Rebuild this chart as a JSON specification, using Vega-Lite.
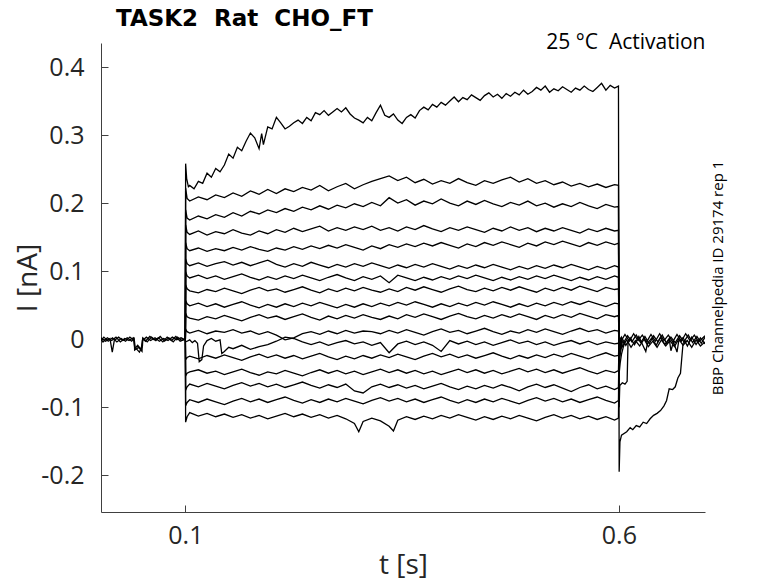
{
"$schema":"https://vega.github.io/schema/vega-lite/v6.json",
"width":604,"height":469,
"autosize":{"type":"none"},
"padding":{"left":101,"top":43,"right":73,"bottom":71},
"background":"white",
"title":{"text":"TASK2\u00a0 Rat\u00a0 CHO_FT","anchor":"start","frame":"group","font":"DejaVu Sans","fontSize":23,"fontWeight":"bold","color":"black","dx":15,"offset":-18,"baseline":"alphabetic"},
"config":{"view":{"stroke":null}},
"data":{"values":[
{"k":1,"t":0.1,"v":-0.001},{"k":1,"t":0.1003,"v":0.258},{"k":1,"t":0.1015,"v":0.236},{"k":1,"t":0.1035,"v":0.224},
{"k":1,"t":0.105,"v":0.226},{"k":1,"t":0.11,"v":0.221},{"k":1,"t":0.115,"v":0.232},{"k":1,"t":0.12,"v":0.229},{"k":1,"t":0.125,"v":0.244},{"k":1,"t":0.13,"v":0.238},{"k":1,"t":0.135,"v":0.251},{"k":1,"t":0.14,"v":0.246},{"k":1,"t":0.145,"v":0.256},{"k":1,"t":0.15,"v":0.272},
{"k":1,"t":0.155,"v":0.266},{"k":1,"t":0.16,"v":0.282},{"k":1,"t":0.165,"v":0.277},{"k":1,"t":0.17,"v":0.291},{"k":1,"t":0.175,"v":0.303},{"k":1,"t":0.18,"v":0.296},{"k":1,"t":0.185,"v":0.28},{"k":1,"t":0.188,"v":0.302},{"k":1,"t":0.19,"v":0.286},{"k":1,"t":0.195,"v":0.312},
{"k":1,"t":0.2,"v":0.309},{"k":1,"t":0.205,"v":0.326},{"k":1,"t":0.21,"v":0.318},{"k":1,"t":0.215,"v":0.309},{"k":1,"t":0.22,"v":0.313},{"k":1,"t":0.225,"v":0.318},{"k":1,"t":0.23,"v":0.322},{"k":1,"t":0.235,"v":0.317},{"k":1,"t":0.24,"v":0.326},{"k":1,"t":0.245,"v":0.321},
{"k":1,"t":0.25,"v":0.333},{"k":1,"t":0.255,"v":0.33},{"k":1,"t":0.26,"v":0.336},{"k":1,"t":0.265,"v":0.329},{"k":1,"t":0.27,"v":0.334},{"k":1,"t":0.275,"v":0.339},{"k":1,"t":0.28,"v":0.334},{"k":1,"t":0.285,"v":0.34},{"k":1,"t":0.29,"v":0.331},{"k":1,"t":0.295,"v":0.325},
{"k":1,"t":0.3,"v":0.322},{"k":1,"t":0.305,"v":0.318},{"k":1,"t":0.31,"v":0.326},{"k":1,"t":0.315,"v":0.321},{"k":1,"t":0.32,"v":0.333},{"k":1,"t":0.325,"v":0.344},{"k":1,"t":0.33,"v":0.329},{"k":1,"t":0.335,"v":0.326},{"k":1,"t":0.34,"v":0.331},{"k":1,"t":0.345,"v":0.322},
{"k":1,"t":0.35,"v":0.317},{"k":1,"t":0.355,"v":0.326},{"k":1,"t":0.36,"v":0.33},{"k":1,"t":0.365,"v":0.325},{"k":1,"t":0.37,"v":0.336},{"k":1,"t":0.375,"v":0.341},{"k":1,"t":0.38,"v":0.337},{"k":1,"t":0.385,"v":0.345},{"k":1,"t":0.39,"v":0.341},{"k":1,"t":0.395,"v":0.348},
{"k":1,"t":0.4,"v":0.344},{"k":1,"t":0.405,"v":0.35},{"k":1,"t":0.41,"v":0.356},{"k":1,"t":0.415,"v":0.349},{"k":1,"t":0.42,"v":0.355},{"k":1,"t":0.425,"v":0.352},{"k":1,"t":0.43,"v":0.359},{"k":1,"t":0.435,"v":0.355},{"k":1,"t":0.44,"v":0.351},{"k":1,"t":0.445,"v":0.358},
{"k":1,"t":0.45,"v":0.362},{"k":1,"t":0.455,"v":0.356},{"k":1,"t":0.46,"v":0.36},{"k":1,"t":0.465,"v":0.354},{"k":1,"t":0.47,"v":0.361},{"k":1,"t":0.475,"v":0.357},{"k":1,"t":0.48,"v":0.363},{"k":1,"t":0.485,"v":0.359},{"k":1,"t":0.49,"v":0.366},{"k":1,"t":0.495,"v":0.36},
{"k":1,"t":0.5,"v":0.364},{"k":1,"t":0.505,"v":0.37},{"k":1,"t":0.51,"v":0.366},{"k":1,"t":0.515,"v":0.372},{"k":1,"t":0.52,"v":0.363},{"k":1,"t":0.525,"v":0.368},{"k":1,"t":0.53,"v":0.365},{"k":1,"t":0.535,"v":0.371},{"k":1,"t":0.54,"v":0.367},{"k":1,"t":0.545,"v":0.363},
{"k":1,"t":0.55,"v":0.369},{"k":1,"t":0.555,"v":0.366},{"k":1,"t":0.56,"v":0.372},{"k":1,"t":0.565,"v":0.367},{"k":1,"t":0.57,"v":0.364},{"k":1,"t":0.575,"v":0.37},{"k":1,"t":0.58,"v":0.376},{"k":1,"t":0.585,"v":0.366},{"k":1,"t":0.59,"v":0.373},{"k":1,"t":0.595,"v":0.369},{"k":1,"t":0.5995,"v":0.372},
{"k":1,"t":0.6003,"v":-0.195},{"k":1,"t":0.6012,"v":-0.151},{"k":1,"t":0.603,"v":-0.141},{"k":1,"t":0.609,"v":-0.136},{"k":1,"t":0.613,"v":-0.13},{"k":1,"t":0.616,"v":-0.133},{"k":1,"t":0.62,"v":-0.127},{"k":1,"t":0.624,"v":-0.129},{"k":1,"t":0.628,"v":-0.122},{"k":1,"t":0.632,"v":-0.124},{"k":1,"t":0.636,"v":-0.117},{"k":1,"t":0.64,"v":-0.112},{"k":1,"t":0.644,"v":-0.109},{"k":1,"t":0.648,"v":-0.105},{"k":1,"t":0.652,"v":-0.098},{"k":1,"t":0.655,"v":-0.09},{"k":1,"t":0.658,"v":-0.073},{"k":1,"t":0.662,"v":-0.074},{"k":1,"t":0.665,"v":-0.07},{"k":1,"t":0.668,"v":-0.057},{"k":1,"t":0.671,"v":-0.05},{"k":1,"t":0.6725,"v":-0.028},{"k":1,"t":0.674,"v":-0.006},{"k":1,"t":0.678,"v":-0.002},
{"k":2,"t":0.1,"v":-0.001},{"k":2,"t":0.1003,"v":0.222},{"k":2,"t":0.102,"v":0.207},{"k":2,"t":0.105,"v":0.203},{"k":2,"t":0.115,"v":0.209},{"k":2,"t":0.125,"v":0.205},{"k":2,"t":0.135,"v":0.212},{"k":2,"t":0.145,"v":0.208},{"k":2,"t":0.155,"v":0.215},{"k":2,"t":0.165,"v":0.21},{"k":2,"t":0.175,"v":0.218},{"k":2,"t":0.185,"v":0.213},{"k":2,"t":0.195,"v":0.22},
{"k":2,"t":0.205,"v":0.214},{"k":2,"t":0.215,"v":0.221},{"k":2,"t":0.225,"v":0.217},{"k":2,"t":0.235,"v":0.223},{"k":2,"t":0.245,"v":0.219},{"k":2,"t":0.255,"v":0.226},{"k":2,"t":0.265,"v":0.218},{"k":2,"t":0.275,"v":0.224},{"k":2,"t":0.285,"v":0.229},{"k":2,"t":0.295,"v":0.221},
{"k":2,"t":0.305,"v":0.227},{"k":2,"t":0.315,"v":0.232},{"k":2,"t":0.325,"v":0.236},{"k":2,"t":0.335,"v":0.24},{"k":2,"t":0.345,"v":0.233},{"k":2,"t":0.355,"v":0.238},{"k":2,"t":0.365,"v":0.23},{"k":2,"t":0.375,"v":0.235},{"k":2,"t":0.385,"v":0.228},{"k":2,"t":0.395,"v":0.233},
{"k":2,"t":0.405,"v":0.229},{"k":2,"t":0.415,"v":0.236},{"k":2,"t":0.425,"v":0.23},{"k":2,"t":0.435,"v":0.226},{"k":2,"t":0.445,"v":0.233},{"k":2,"t":0.455,"v":0.229},{"k":2,"t":0.465,"v":0.234},{"k":2,"t":0.475,"v":0.238},{"k":2,"t":0.485,"v":0.231},{"k":2,"t":0.495,"v":0.236},
{"k":2,"t":0.505,"v":0.229},{"k":2,"t":0.515,"v":0.233},{"k":2,"t":0.525,"v":0.227},{"k":2,"t":0.535,"v":0.231},{"k":2,"t":0.545,"v":0.225},{"k":2,"t":0.555,"v":0.229},{"k":2,"t":0.565,"v":0.224},{"k":2,"t":0.575,"v":0.228},{"k":2,"t":0.585,"v":0.223},{"k":2,"t":0.595,"v":0.227},{"k":2,"t":0.5995,"v":0.226},
{"k":2,"t":0.6003,"v":-0.1},{"k":2,"t":0.601,"v":-0.068},{"k":2,"t":0.604,"v":-0.064},{"k":2,"t":0.607,"v":-0.066},{"k":2,"t":0.6095,"v":-0.062},{"k":2,"t":0.6105,"v":-0.004},
{"k":3,"t":0.1,"v":-0.001},{"k":3,"t":0.1003,"v":0.19},{"k":3,"t":0.102,"v":0.178},{"k":3,"t":0.105,"v":0.175},{"k":3,"t":0.115,"v":0.181},{"k":3,"t":0.125,"v":0.177},{"k":3,"t":0.135,"v":0.183},{"k":3,"t":0.145,"v":0.179},{"k":3,"t":0.155,"v":0.186},{"k":3,"t":0.165,"v":0.181},{"k":3,"t":0.175,"v":0.188},{"k":3,"t":0.185,"v":0.184},{"k":3,"t":0.195,"v":0.19},
{"k":3,"t":0.205,"v":0.186},{"k":3,"t":0.215,"v":0.192},{"k":3,"t":0.225,"v":0.188},{"k":3,"t":0.235,"v":0.194},{"k":3,"t":0.245,"v":0.19},{"k":3,"t":0.255,"v":0.196},{"k":3,"t":0.265,"v":0.191},{"k":3,"t":0.275,"v":0.197},{"k":3,"t":0.285,"v":0.193},{"k":3,"t":0.295,"v":0.199},
{"k":3,"t":0.305,"v":0.195},{"k":3,"t":0.315,"v":0.201},{"k":3,"t":0.325,"v":0.196},{"k":3,"t":0.335,"v":0.208},{"k":3,"t":0.345,"v":0.2},{"k":3,"t":0.355,"v":0.205},{"k":3,"t":0.365,"v":0.197},{"k":3,"t":0.375,"v":0.203},{"k":3,"t":0.385,"v":0.199},{"k":3,"t":0.395,"v":0.206},
{"k":3,"t":0.405,"v":0.2},{"k":3,"t":0.415,"v":0.196},{"k":3,"t":0.425,"v":0.203},{"k":3,"t":0.435,"v":0.198},{"k":3,"t":0.445,"v":0.204},{"k":3,"t":0.455,"v":0.199},{"k":3,"t":0.465,"v":0.195},{"k":3,"t":0.475,"v":0.201},{"k":3,"t":0.485,"v":0.197},{"k":3,"t":0.495,"v":0.203},
{"k":3,"t":0.505,"v":0.196},{"k":3,"t":0.515,"v":0.2},{"k":3,"t":0.525,"v":0.194},{"k":3,"t":0.535,"v":0.199},{"k":3,"t":0.545,"v":0.195},{"k":3,"t":0.555,"v":0.201},{"k":3,"t":0.565,"v":0.196},{"k":3,"t":0.575,"v":0.192},{"k":3,"t":0.585,"v":0.198},{"k":3,"t":0.595,"v":0.194},{"k":3,"t":0.5995,"v":0.195},
{"k":3,"t":0.6003,"v":-0.05},{"k":3,"t":0.6015,"v":-0.035},{"k":3,"t":0.603,"v":-0.022},{"k":3,"t":0.605,"v":-0.012},{"k":3,"t":0.607,"v":-0.004},
{"k":4,"t":0.1,"v":-0.001},{"k":4,"t":0.1003,"v":0.168},{"k":4,"t":0.102,"v":0.157},{"k":4,"t":0.105,"v":0.154},{"k":4,"t":0.115,"v":0.159},{"k":4,"t":0.125,"v":0.153},{"k":4,"t":0.135,"v":0.158},{"k":4,"t":0.145,"v":0.155},{"k":4,"t":0.155,"v":0.161},{"k":4,"t":0.165,"v":0.156},{"k":4,"t":0.175,"v":0.153},{"k":4,"t":0.185,"v":0.159},{"k":4,"t":0.195,"v":0.155},
{"k":4,"t":0.205,"v":0.161},{"k":4,"t":0.215,"v":0.157},{"k":4,"t":0.225,"v":0.163},{"k":4,"t":0.235,"v":0.158},{"k":4,"t":0.245,"v":0.162},{"k":4,"t":0.255,"v":0.166},{"k":4,"t":0.265,"v":0.159},{"k":4,"t":0.275,"v":0.164},{"k":4,"t":0.285,"v":0.16},{"k":4,"t":0.295,"v":0.165},
{"k":4,"t":0.305,"v":0.161},{"k":4,"t":0.315,"v":0.166},{"k":4,"t":0.325,"v":0.16},{"k":4,"t":0.335,"v":0.164},{"k":4,"t":0.345,"v":0.159},{"k":4,"t":0.355,"v":0.165},{"k":4,"t":0.365,"v":0.161},{"k":4,"t":0.375,"v":0.167},{"k":4,"t":0.385,"v":0.162},{"k":4,"t":0.395,"v":0.158},
{"k":4,"t":0.405,"v":0.164},{"k":4,"t":0.415,"v":0.16},{"k":4,"t":0.425,"v":0.165},{"k":4,"t":0.435,"v":0.161},{"k":4,"t":0.445,"v":0.157},{"k":4,"t":0.455,"v":0.163},{"k":4,"t":0.465,"v":0.159},{"k":4,"t":0.475,"v":0.165},{"k":4,"t":0.485,"v":0.16},{"k":4,"t":0.495,"v":0.164},
{"k":4,"t":0.505,"v":0.158},{"k":4,"t":0.515,"v":0.163},{"k":4,"t":0.525,"v":0.159},{"k":4,"t":0.535,"v":0.164},{"k":4,"t":0.545,"v":0.16},{"k":4,"t":0.555,"v":0.156},{"k":4,"t":0.565,"v":0.162},{"k":4,"t":0.575,"v":0.158},{"k":4,"t":0.585,"v":0.163},{"k":4,"t":0.595,"v":0.159},{"k":4,"t":0.5995,"v":0.16},
{"k":4,"t":0.6003,"v":-0.035},{"k":4,"t":0.602,"v":-0.018},{"k":4,"t":0.604,"v":-0.006},
{"k":5,"t":0.1,"v":-0.001},{"k":5,"t":0.1003,"v":0.142},{"k":5,"t":0.102,"v":0.133},{"k":5,"t":0.105,"v":0.13},{"k":5,"t":0.115,"v":0.134},{"k":5,"t":0.125,"v":0.129},{"k":5,"t":0.135,"v":0.133},{"k":5,"t":0.145,"v":0.13},{"k":5,"t":0.155,"v":0.135},{"k":5,"t":0.165,"v":0.131},{"k":5,"t":0.175,"v":0.136},{"k":5,"t":0.185,"v":0.132},{"k":5,"t":0.195,"v":0.129},
{"k":5,"t":0.205,"v":0.134},{"k":5,"t":0.215,"v":0.131},{"k":5,"t":0.225,"v":0.136},{"k":5,"t":0.235,"v":0.132},{"k":5,"t":0.245,"v":0.137},{"k":5,"t":0.255,"v":0.133},{"k":5,"t":0.265,"v":0.138},{"k":5,"t":0.275,"v":0.134},{"k":5,"t":0.285,"v":0.139},{"k":5,"t":0.295,"v":0.135},
{"k":5,"t":0.305,"v":0.131},{"k":5,"t":0.315,"v":0.137},{"k":5,"t":0.325,"v":0.133},{"k":5,"t":0.335,"v":0.139},{"k":5,"t":0.345,"v":0.135},{"k":5,"t":0.355,"v":0.14},{"k":5,"t":0.365,"v":0.136},{"k":5,"t":0.375,"v":0.141},{"k":5,"t":0.385,"v":0.137},{"k":5,"t":0.395,"v":0.142},
{"k":5,"t":0.405,"v":0.138},{"k":5,"t":0.415,"v":0.134},{"k":5,"t":0.425,"v":0.14},{"k":5,"t":0.435,"v":0.136},{"k":5,"t":0.445,"v":0.142},{"k":5,"t":0.455,"v":0.138},{"k":5,"t":0.465,"v":0.143},{"k":5,"t":0.475,"v":0.139},{"k":5,"t":0.485,"v":0.135},{"k":5,"t":0.495,"v":0.141},
{"k":5,"t":0.505,"v":0.137},{"k":5,"t":0.515,"v":0.143},{"k":5,"t":0.525,"v":0.139},{"k":5,"t":0.535,"v":0.144},{"k":5,"t":0.545,"v":0.14},{"k":5,"t":0.555,"v":0.136},{"k":5,"t":0.565,"v":0.142},{"k":5,"t":0.575,"v":0.138},{"k":5,"t":0.585,"v":0.143},{"k":5,"t":0.595,"v":0.139},{"k":5,"t":0.5995,"v":0.141},
{"k":5,"t":0.6003,"v":-0.028},{"k":5,"t":0.602,"v":-0.012},{"k":5,"t":0.6035,"v":-0.003},
{"k":6,"t":0.1,"v":-0.001},{"k":6,"t":0.1003,"v":0.118},{"k":6,"t":0.102,"v":0.111},{"k":6,"t":0.105,"v":0.108},{"k":6,"t":0.115,"v":0.112},{"k":6,"t":0.125,"v":0.107},{"k":6,"t":0.135,"v":0.111},{"k":6,"t":0.145,"v":0.114},{"k":6,"t":0.155,"v":0.109},{"k":6,"t":0.165,"v":0.113},{"k":6,"t":0.175,"v":0.108},{"k":6,"t":0.185,"v":0.112},{"k":6,"t":0.195,"v":0.116},
{"k":6,"t":0.205,"v":0.11},{"k":6,"t":0.215,"v":0.106},{"k":6,"t":0.225,"v":0.111},{"k":6,"t":0.235,"v":0.107},{"k":6,"t":0.245,"v":0.113},{"k":6,"t":0.255,"v":0.109},{"k":6,"t":0.265,"v":0.105},{"k":6,"t":0.275,"v":0.11},{"k":6,"t":0.285,"v":0.106},{"k":6,"t":0.295,"v":0.111},
{"k":6,"t":0.305,"v":0.107},{"k":6,"t":0.315,"v":0.112},{"k":6,"t":0.325,"v":0.108},{"k":6,"t":0.335,"v":0.104},{"k":6,"t":0.345,"v":0.109},{"k":6,"t":0.355,"v":0.105},{"k":6,"t":0.365,"v":0.11},{"k":6,"t":0.375,"v":0.106},{"k":6,"t":0.385,"v":0.111},{"k":6,"t":0.395,"v":0.107},
{"k":6,"t":0.405,"v":0.103},{"k":6,"t":0.415,"v":0.108},{"k":6,"t":0.425,"v":0.104},{"k":6,"t":0.435,"v":0.109},{"k":6,"t":0.445,"v":0.105},{"k":6,"t":0.455,"v":0.11},{"k":6,"t":0.465,"v":0.106},{"k":6,"t":0.475,"v":0.102},{"k":6,"t":0.485,"v":0.107},{"k":6,"t":0.495,"v":0.103},
{"k":6,"t":0.505,"v":0.108},{"k":6,"t":0.515,"v":0.104},{"k":6,"t":0.525,"v":0.109},{"k":6,"t":0.535,"v":0.105},{"k":6,"t":0.545,"v":0.11},{"k":6,"t":0.555,"v":0.106},{"k":6,"t":0.565,"v":0.102},{"k":6,"t":0.575,"v":0.107},{"k":6,"t":0.585,"v":0.103},{"k":6,"t":0.595,"v":0.108},{"k":6,"t":0.5995,"v":0.106},
{"k":6,"t":0.6003,"v":-0.022},{"k":6,"t":0.602,"v":-0.008},{"k":6,"t":0.6035,"v":-0.002},
{"k":7,"t":0.1,"v":-0.001},{"k":7,"t":0.1003,"v":0.099},{"k":7,"t":0.102,"v":0.093},{"k":7,"t":0.105,"v":0.09},{"k":7,"t":0.115,"v":0.094},{"k":7,"t":0.125,"v":0.089},{"k":7,"t":0.135,"v":0.093},{"k":7,"t":0.145,"v":0.088},{"k":7,"t":0.155,"v":0.092},{"k":7,"t":0.165,"v":0.096},{"k":7,"t":0.175,"v":0.091},{"k":7,"t":0.185,"v":0.087},{"k":7,"t":0.195,"v":0.092},
{"k":7,"t":0.205,"v":0.088},{"k":7,"t":0.215,"v":0.093},{"k":7,"t":0.225,"v":0.089},{"k":7,"t":0.235,"v":0.094},{"k":7,"t":0.245,"v":0.09},{"k":7,"t":0.255,"v":0.086},{"k":7,"t":0.265,"v":0.091},{"k":7,"t":0.275,"v":0.095},{"k":7,"t":0.285,"v":0.09},{"k":7,"t":0.295,"v":0.086},
{"k":7,"t":0.305,"v":0.092},{"k":7,"t":0.315,"v":0.088},{"k":7,"t":0.325,"v":0.093},{"k":7,"t":0.335,"v":0.083},{"k":7,"t":0.345,"v":0.094},{"k":7,"t":0.355,"v":0.09},{"k":7,"t":0.365,"v":0.086},{"k":7,"t":0.375,"v":0.091},{"k":7,"t":0.385,"v":0.087},{"k":7,"t":0.395,"v":0.092},
{"k":7,"t":0.405,"v":0.088},{"k":7,"t":0.415,"v":0.093},{"k":7,"t":0.425,"v":0.089},{"k":7,"t":0.435,"v":0.094},{"k":7,"t":0.445,"v":0.09},{"k":7,"t":0.455,"v":0.086},{"k":7,"t":0.465,"v":0.091},{"k":7,"t":0.475,"v":0.087},{"k":7,"t":0.485,"v":0.092},{"k":7,"t":0.495,"v":0.088},
{"k":7,"t":0.505,"v":0.093},{"k":7,"t":0.515,"v":0.089},{"k":7,"t":0.525,"v":0.094},{"k":7,"t":0.535,"v":0.09},{"k":7,"t":0.545,"v":0.086},{"k":7,"t":0.555,"v":0.091},{"k":7,"t":0.565,"v":0.087},{"k":7,"t":0.575,"v":0.092},{"k":7,"t":0.585,"v":0.088},{"k":7,"t":0.595,"v":0.093},{"k":7,"t":0.5995,"v":0.091},
{"k":7,"t":0.6003,"v":-0.018},{"k":7,"t":0.602,"v":-0.006},{"k":7,"t":0.6035,"v":-0.001},
{"k":8,"t":0.1,"v":-0.001},{"k":8,"t":0.1003,"v":0.08},{"k":8,"t":0.102,"v":0.074},{"k":8,"t":0.105,"v":0.071},{"k":8,"t":0.115,"v":0.068},{"k":8,"t":0.125,"v":0.073},{"k":8,"t":0.135,"v":0.07},{"k":8,"t":0.145,"v":0.075},{"k":8,"t":0.155,"v":0.071},{"k":8,"t":0.165,"v":0.067},{"k":8,"t":0.175,"v":0.072},{"k":8,"t":0.185,"v":0.076},{"k":8,"t":0.195,"v":0.071},
{"k":8,"t":0.205,"v":0.074},{"k":8,"t":0.215,"v":0.069},{"k":8,"t":0.225,"v":0.073},{"k":8,"t":0.235,"v":0.077},{"k":8,"t":0.245,"v":0.072},{"k":8,"t":0.255,"v":0.068},{"k":8,"t":0.265,"v":0.074},{"k":8,"t":0.275,"v":0.07},{"k":8,"t":0.285,"v":0.075},{"k":8,"t":0.295,"v":0.071},
{"k":8,"t":0.305,"v":0.076},{"k":8,"t":0.315,"v":0.072},{"k":8,"t":0.325,"v":0.069},{"k":8,"t":0.335,"v":0.074},{"k":8,"t":0.345,"v":0.07},{"k":8,"t":0.355,"v":0.076},{"k":8,"t":0.365,"v":0.072},{"k":8,"t":0.375,"v":0.077},{"k":8,"t":0.385,"v":0.073},{"k":8,"t":0.395,"v":0.069},
{"k":8,"t":0.405,"v":0.074},{"k":8,"t":0.415,"v":0.078},{"k":8,"t":0.425,"v":0.073},{"k":8,"t":0.435,"v":0.07},{"k":8,"t":0.445,"v":0.075},{"k":8,"t":0.455,"v":0.071},{"k":8,"t":0.465,"v":0.076},{"k":8,"t":0.475,"v":0.072},{"k":8,"t":0.485,"v":0.077},{"k":8,"t":0.495,"v":0.073},
{"k":8,"t":0.505,"v":0.069},{"k":8,"t":0.515,"v":0.075},{"k":8,"t":0.525,"v":0.071},{"k":8,"t":0.535,"v":0.076},{"k":8,"t":0.545,"v":0.072},{"k":8,"t":0.555,"v":0.078},{"k":8,"t":0.565,"v":0.074},{"k":8,"t":0.575,"v":0.07},{"k":8,"t":0.585,"v":0.076},{"k":8,"t":0.595,"v":0.073},{"k":8,"t":0.5995,"v":0.074},
{"k":8,"t":0.6003,"v":-0.015},{"k":8,"t":0.602,"v":-0.005},{"k":8,"t":0.6035,"v":-0.001},
{"k":9,"t":0.1,"v":-0.001},{"k":9,"t":0.1003,"v":0.057},{"k":9,"t":0.102,"v":0.052},{"k":9,"t":0.105,"v":0.049},{"k":9,"t":0.115,"v":0.053},{"k":9,"t":0.125,"v":0.048},{"k":9,"t":0.135,"v":0.052},{"k":9,"t":0.145,"v":0.047},{"k":9,"t":0.155,"v":0.051},{"k":9,"t":0.165,"v":0.055},{"k":9,"t":0.175,"v":0.05},{"k":9,"t":0.185,"v":0.046},{"k":9,"t":0.195,"v":0.051},
{"k":9,"t":0.205,"v":0.047},{"k":9,"t":0.215,"v":0.052},{"k":9,"t":0.225,"v":0.048},{"k":9,"t":0.235,"v":0.053},{"k":9,"t":0.245,"v":0.049},{"k":9,"t":0.255,"v":0.054},{"k":9,"t":0.265,"v":0.05},{"k":9,"t":0.275,"v":0.046},{"k":9,"t":0.285,"v":0.051},{"k":9,"t":0.295,"v":0.047},
{"k":9,"t":0.305,"v":0.052},{"k":9,"t":0.315,"v":0.048},{"k":9,"t":0.325,"v":0.053},{"k":9,"t":0.335,"v":0.049},{"k":9,"t":0.345,"v":0.054},{"k":9,"t":0.355,"v":0.05},{"k":9,"t":0.365,"v":0.055},{"k":9,"t":0.375,"v":0.051},{"k":9,"t":0.385,"v":0.047},{"k":9,"t":0.395,"v":0.052},
{"k":9,"t":0.405,"v":0.048},{"k":9,"t":0.415,"v":0.053},{"k":9,"t":0.425,"v":0.049},{"k":9,"t":0.435,"v":0.054},{"k":9,"t":0.445,"v":0.05},{"k":9,"t":0.455,"v":0.055},{"k":9,"t":0.465,"v":0.051},{"k":9,"t":0.475,"v":0.047},{"k":9,"t":0.485,"v":0.052},{"k":9,"t":0.495,"v":0.048},
{"k":9,"t":0.505,"v":0.053},{"k":9,"t":0.515,"v":0.049},{"k":9,"t":0.525,"v":0.054},{"k":9,"t":0.535,"v":0.05},{"k":9,"t":0.545,"v":0.055},{"k":9,"t":0.555,"v":0.051},{"k":9,"t":0.565,"v":0.056},{"k":9,"t":0.575,"v":0.052},{"k":9,"t":0.585,"v":0.048},{"k":9,"t":0.595,"v":0.053},{"k":9,"t":0.5995,"v":0.052},
{"k":9,"t":0.6003,"v":-0.012},{"k":9,"t":0.602,"v":-0.004},
{"k":10,"t":0.1,"v":-0.001},{"k":10,"t":0.1003,"v":0.038},{"k":10,"t":0.102,"v":0.033},{"k":10,"t":0.105,"v":0.031},{"k":10,"t":0.115,"v":0.028},{"k":10,"t":0.125,"v":0.033},{"k":10,"t":0.135,"v":0.03},{"k":10,"t":0.145,"v":0.035},{"k":10,"t":0.155,"v":0.031},{"k":10,"t":0.165,"v":0.027},{"k":10,"t":0.175,"v":0.032},{"k":10,"t":0.185,"v":0.036},{"k":10,"t":0.195,"v":0.031},
{"k":10,"t":0.205,"v":0.034},{"k":10,"t":0.215,"v":0.029},{"k":10,"t":0.225,"v":0.033},{"k":10,"t":0.235,"v":0.037},{"k":10,"t":0.245,"v":0.032},{"k":10,"t":0.255,"v":0.028},{"k":10,"t":0.265,"v":0.034},{"k":10,"t":0.275,"v":0.03},{"k":10,"t":0.285,"v":0.035},{"k":10,"t":0.295,"v":0.031},
{"k":10,"t":0.305,"v":0.036},{"k":10,"t":0.315,"v":0.032},{"k":10,"t":0.325,"v":0.029},{"k":10,"t":0.335,"v":0.034},{"k":10,"t":0.345,"v":0.03},{"k":10,"t":0.355,"v":0.036},{"k":10,"t":0.365,"v":0.032},{"k":10,"t":0.375,"v":0.037},{"k":10,"t":0.385,"v":0.033},{"k":10,"t":0.395,"v":0.029},
{"k":10,"t":0.405,"v":0.034},{"k":10,"t":0.415,"v":0.038},{"k":10,"t":0.425,"v":0.033},{"k":10,"t":0.435,"v":0.03},{"k":10,"t":0.445,"v":0.035},{"k":10,"t":0.455,"v":0.031},{"k":10,"t":0.465,"v":0.036},{"k":10,"t":0.475,"v":0.032},{"k":10,"t":0.485,"v":0.037},{"k":10,"t":0.495,"v":0.033},
{"k":10,"t":0.505,"v":0.029},{"k":10,"t":0.515,"v":0.035},{"k":10,"t":0.525,"v":0.031},{"k":10,"t":0.535,"v":0.036},{"k":10,"t":0.545,"v":0.032},{"k":10,"t":0.555,"v":0.038},{"k":10,"t":0.565,"v":0.034},{"k":10,"t":0.575,"v":0.03},{"k":10,"t":0.585,"v":0.036},{"k":10,"t":0.595,"v":0.033},{"k":10,"t":0.5995,"v":0.035},
{"k":10,"t":0.6003,"v":-0.01},{"k":10,"t":0.602,"v":-0.003},
{"k":11,"t":0.1,"v":-0.001},{"k":11,"t":0.1003,"v":0.015},{"k":11,"t":0.102,"v":0.011},{"k":11,"t":0.105,"v":0.009},{"k":11,"t":0.115,"v":0.013},{"k":11,"t":0.125,"v":0.008},{"k":11,"t":0.135,"v":0.012},{"k":11,"t":0.145,"v":0.01},{"k":11,"t":0.155,"v":0.014},{"k":11,"t":0.165,"v":0.009},{"k":11,"t":0.175,"v":0.012},{"k":11,"t":0.185,"v":0.007},{"k":11,"t":0.195,"v":0.011},
{"k":11,"t":0.205,"v":0.006},{"k":11,"t":0.215,"v":-0.001},{"k":11,"t":0.225,"v":0.002},{"k":11,"t":0.235,"v":0.008},{"k":11,"t":0.245,"v":0.011},{"k":11,"t":0.255,"v":0.007},{"k":11,"t":0.265,"v":0.012},{"k":11,"t":0.275,"v":0.008},{"k":11,"t":0.285,"v":0.013},{"k":11,"t":0.295,"v":0.009},
{"k":11,"t":0.305,"v":0.012},{"k":11,"t":0.315,"v":0.011},{"k":11,"t":0.325,"v":0.008},{"k":11,"t":0.335,"v":0.013},{"k":11,"t":0.345,"v":0.009},{"k":11,"t":0.355,"v":0.014},{"k":11,"t":0.365,"v":0.01},{"k":11,"t":0.375,"v":0.006},{"k":11,"t":0.385,"v":0.011},{"k":11,"t":0.395,"v":0.015},
{"k":11,"t":0.405,"v":0.01},{"k":11,"t":0.415,"v":0.013},{"k":11,"t":0.425,"v":0.008},{"k":11,"t":0.435,"v":0.012},{"k":11,"t":0.445,"v":0.016},{"k":11,"t":0.455,"v":0.011},{"k":11,"t":0.465,"v":0.007},{"k":11,"t":0.475,"v":0.012},{"k":11,"t":0.485,"v":0.009},{"k":11,"t":0.495,"v":0.014},
{"k":11,"t":0.505,"v":0.01},{"k":11,"t":0.515,"v":0.015},{"k":11,"t":0.525,"v":0.011},{"k":11,"t":0.535,"v":0.007},{"k":11,"t":0.545,"v":0.012},{"k":11,"t":0.555,"v":0.016},{"k":11,"t":0.565,"v":0.011},{"k":11,"t":0.575,"v":0.014},{"k":11,"t":0.585,"v":0.009},{"k":11,"t":0.595,"v":0.013},{"k":11,"t":0.5995,"v":0.012},
{"k":11,"t":0.6003,"v":-0.008},{"k":11,"t":0.602,"v":-0.002},
{"k":12,"t":0.1,"v":-0.001},{"k":12,"t":0.1003,"v":-0.004},{"k":12,"t":0.102,"v":-0.003},{"k":12,"t":0.105,"v":-0.001},{"k":12,"t":0.108,"v":-0.005},{"k":12,"t":0.111,"v":-0.002},{"k":12,"t":0.114,"v":-0.006},{"k":12,"t":0.116,"v":-0.033},{"k":12,"t":0.119,"v":-0.03},{"k":12,"t":0.121,"v":-0.01},{"k":12,"t":0.125,"v":-0.002},{"k":12,"t":0.13,"v":0.001},{"k":12,"t":0.135,"v":-0.003},{"k":12,"t":0.14,"v":-0.001},{"k":12,"t":0.142,"v":-0.021},{"k":12,"t":0.145,"v":-0.018},{"k":12,"t":0.15,"v":-0.012},{"k":12,"t":0.155,"v":-0.014},{"k":12,"t":0.165,"v":-0.009},{"k":12,"t":0.175,"v":-0.015},{"k":12,"t":0.185,"v":-0.011},{"k":12,"t":0.195,"v":-0.008},
{"k":12,"t":0.205,"v":-0.003},{"k":12,"t":0.215,"v":0.003},{"k":12,"t":0.225,"v":0.001},{"k":12,"t":0.235,"v":-0.004},{"k":12,"t":0.245,"v":-0.008},{"k":12,"t":0.255,"v":-0.004},{"k":12,"t":0.265,"v":-0.009},{"k":12,"t":0.275,"v":-0.005},{"k":12,"t":0.285,"v":-0.002},{"k":12,"t":0.295,"v":-0.007},
{"k":12,"t":0.305,"v":-0.004},{"k":12,"t":0.315,"v":-0.009},{"k":12,"t":0.325,"v":-0.005},{"k":12,"t":0.335,"v":-0.02},{"k":12,"t":0.345,"v":-0.007},{"k":12,"t":0.355,"v":-0.003},{"k":12,"t":0.365,"v":-0.008},{"k":12,"t":0.375,"v":-0.004},{"k":12,"t":0.385,"v":-0.009},{"k":12,"t":0.395,"v":-0.018},
{"k":12,"t":0.405,"v":-0.002},{"k":12,"t":0.415,"v":-0.007},{"k":12,"t":0.425,"v":-0.003},{"k":12,"t":0.435,"v":-0.008},{"k":12,"t":0.445,"v":-0.004},{"k":12,"t":0.455,"v":-0.009},{"k":12,"t":0.465,"v":-0.005},{"k":12,"t":0.475,"v":-0.001},{"k":12,"t":0.485,"v":-0.006},{"k":12,"t":0.495,"v":-0.003},
{"k":12,"t":0.505,"v":-0.008},{"k":12,"t":0.515,"v":-0.004},{"k":12,"t":0.525,"v":-0.009},{"k":12,"t":0.535,"v":-0.005},{"k":12,"t":0.545,"v":-0.002},{"k":12,"t":0.555,"v":-0.007},{"k":12,"t":0.565,"v":-0.003},{"k":12,"t":0.575,"v":-0.008},{"k":12,"t":0.585,"v":-0.004},{"k":12,"t":0.595,"v":-0.007},{"k":12,"t":0.5995,"v":-0.006},
{"k":12,"t":0.6003,"v":-0.006},{"k":12,"t":0.602,"v":-0.002},
{"k":13,"t":0.1,"v":-0.001},{"k":13,"t":0.1003,"v":-0.03},{"k":13,"t":0.102,"v":-0.027},{"k":13,"t":0.105,"v":-0.025},{"k":13,"t":0.115,"v":-0.029},{"k":13,"t":0.125,"v":-0.024},{"k":13,"t":0.135,"v":-0.028},{"k":13,"t":0.145,"v":-0.023},{"k":13,"t":0.155,"v":-0.027},{"k":13,"t":0.165,"v":-0.031},{"k":13,"t":0.175,"v":-0.026},{"k":13,"t":0.185,"v":-0.022},{"k":13,"t":0.195,"v":-0.027},
{"k":13,"t":0.205,"v":-0.023},{"k":13,"t":0.215,"v":-0.028},{"k":13,"t":0.225,"v":-0.024},{"k":13,"t":0.235,"v":-0.029},{"k":13,"t":0.245,"v":-0.025},{"k":13,"t":0.255,"v":-0.021},{"k":13,"t":0.265,"v":-0.026},{"k":13,"t":0.275,"v":-0.03},{"k":13,"t":0.285,"v":-0.025},{"k":13,"t":0.295,"v":-0.029},
{"k":13,"t":0.305,"v":-0.024},{"k":13,"t":0.315,"v":-0.028},{"k":13,"t":0.325,"v":-0.023},{"k":13,"t":0.335,"v":-0.027},{"k":13,"t":0.345,"v":-0.022},{"k":13,"t":0.355,"v":-0.026},{"k":13,"t":0.365,"v":-0.03},{"k":13,"t":0.375,"v":-0.025},{"k":13,"t":0.385,"v":-0.021},{"k":13,"t":0.395,"v":-0.026},
{"k":13,"t":0.405,"v":-0.022},{"k":13,"t":0.415,"v":-0.027},{"k":13,"t":0.425,"v":-0.023},{"k":13,"t":0.435,"v":-0.028},{"k":13,"t":0.445,"v":-0.024},{"k":13,"t":0.455,"v":-0.02},{"k":13,"t":0.465,"v":-0.025},{"k":13,"t":0.475,"v":-0.029},{"k":13,"t":0.485,"v":-0.024},{"k":13,"t":0.495,"v":-0.028},
{"k":13,"t":0.505,"v":-0.023},{"k":13,"t":0.515,"v":-0.027},{"k":13,"t":0.525,"v":-0.022},{"k":13,"t":0.535,"v":-0.026},{"k":13,"t":0.545,"v":-0.021},{"k":13,"t":0.555,"v":-0.025},{"k":13,"t":0.565,"v":-0.029},{"k":13,"t":0.575,"v":-0.024},{"k":13,"t":0.585,"v":-0.02},{"k":13,"t":0.595,"v":-0.025},{"k":13,"t":0.5995,"v":-0.024},
{"k":13,"t":0.6003,"v":-0.003},
{"k":14,"t":0.1,"v":-0.001},{"k":14,"t":0.1003,"v":-0.054},{"k":14,"t":0.102,"v":-0.05},{"k":14,"t":0.105,"v":-0.048},{"k":14,"t":0.115,"v":-0.045},{"k":14,"t":0.125,"v":-0.05},{"k":14,"t":0.135,"v":-0.047},{"k":14,"t":0.145,"v":-0.052},{"k":14,"t":0.155,"v":-0.048},{"k":14,"t":0.165,"v":-0.044},{"k":14,"t":0.175,"v":-0.049},{"k":14,"t":0.185,"v":-0.053},{"k":14,"t":0.195,"v":-0.048},
{"k":14,"t":0.205,"v":-0.051},{"k":14,"t":0.215,"v":-0.046},{"k":14,"t":0.225,"v":-0.05},{"k":14,"t":0.235,"v":-0.054},{"k":14,"t":0.245,"v":-0.049},{"k":14,"t":0.255,"v":-0.045},{"k":14,"t":0.265,"v":-0.05},{"k":14,"t":0.275,"v":-0.046},{"k":14,"t":0.285,"v":-0.051},{"k":14,"t":0.295,"v":-0.047},
{"k":14,"t":0.305,"v":-0.052},{"k":14,"t":0.315,"v":-0.048},{"k":14,"t":0.325,"v":-0.044},{"k":14,"t":0.335,"v":-0.049},{"k":14,"t":0.345,"v":-0.045},{"k":14,"t":0.355,"v":-0.05},{"k":14,"t":0.365,"v":-0.046},{"k":14,"t":0.375,"v":-0.051},{"k":14,"t":0.385,"v":-0.047},{"k":14,"t":0.395,"v":-0.052},
{"k":14,"t":0.405,"v":-0.048},{"k":14,"t":0.415,"v":-0.044},{"k":14,"t":0.425,"v":-0.049},{"k":14,"t":0.435,"v":-0.045},{"k":14,"t":0.445,"v":-0.05},{"k":14,"t":0.455,"v":-0.046},{"k":14,"t":0.465,"v":-0.051},{"k":14,"t":0.475,"v":-0.047},{"k":14,"t":0.485,"v":-0.043},{"k":14,"t":0.495,"v":-0.048},
{"k":14,"t":0.505,"v":-0.044},{"k":14,"t":0.515,"v":-0.049},{"k":14,"t":0.525,"v":-0.045},{"k":14,"t":0.535,"v":-0.05},{"k":14,"t":0.545,"v":-0.046},{"k":14,"t":0.555,"v":-0.042},{"k":14,"t":0.565,"v":-0.047},{"k":14,"t":0.575,"v":-0.051},{"k":14,"t":0.585,"v":-0.046},{"k":14,"t":0.595,"v":-0.049},{"k":14,"t":0.5995,"v":-0.046},
{"k":14,"t":0.6003,"v":-0.002},
{"k":15,"t":0.1,"v":-0.001},{"k":15,"t":0.1003,"v":-0.075},{"k":15,"t":0.102,"v":-0.07},{"k":15,"t":0.105,"v":-0.066},{"k":15,"t":0.115,"v":-0.07},{"k":15,"t":0.125,"v":-0.065},{"k":15,"t":0.135,"v":-0.069},{"k":15,"t":0.145,"v":-0.073},{"k":15,"t":0.155,"v":-0.068},{"k":15,"t":0.165,"v":-0.064},{"k":15,"t":0.175,"v":-0.069},{"k":15,"t":0.185,"v":-0.065},{"k":15,"t":0.195,"v":-0.07},
{"k":15,"t":0.205,"v":-0.066},{"k":15,"t":0.215,"v":-0.071},{"k":15,"t":0.225,"v":-0.067},{"k":15,"t":0.235,"v":-0.063},{"k":15,"t":0.245,"v":-0.068},{"k":15,"t":0.255,"v":-0.072},{"k":15,"t":0.265,"v":-0.067},{"k":15,"t":0.275,"v":-0.071},{"k":15,"t":0.285,"v":-0.066},{"k":15,"t":0.295,"v":-0.076},
{"k":15,"t":0.305,"v":-0.079},{"k":15,"t":0.315,"v":-0.07},{"k":15,"t":0.325,"v":-0.066},{"k":15,"t":0.335,"v":-0.071},{"k":15,"t":0.345,"v":-0.067},{"k":15,"t":0.355,"v":-0.072},{"k":15,"t":0.365,"v":-0.068},{"k":15,"t":0.375,"v":-0.073},{"k":15,"t":0.385,"v":-0.069},{"k":15,"t":0.395,"v":-0.065},
{"k":15,"t":0.405,"v":-0.07},{"k":15,"t":0.415,"v":-0.074},{"k":15,"t":0.425,"v":-0.069},{"k":15,"t":0.435,"v":-0.073},{"k":15,"t":0.445,"v":-0.068},{"k":15,"t":0.455,"v":-0.072},{"k":15,"t":0.465,"v":-0.067},{"k":15,"t":0.475,"v":-0.071},{"k":15,"t":0.485,"v":-0.076},{"k":15,"t":0.495,"v":-0.07},
{"k":15,"t":0.505,"v":-0.066},{"k":15,"t":0.515,"v":-0.071},{"k":15,"t":0.525,"v":-0.067},{"k":15,"t":0.535,"v":-0.072},{"k":15,"t":0.545,"v":-0.077},{"k":15,"t":0.555,"v":-0.071},{"k":15,"t":0.565,"v":-0.067},{"k":15,"t":0.575,"v":-0.073},{"k":15,"t":0.585,"v":-0.069},{"k":15,"t":0.595,"v":-0.074},{"k":15,"t":0.5995,"v":-0.071},
{"k":15,"t":0.6003,"v":-0.002},
{"k":16,"t":0.1,"v":-0.001},{"k":16,"t":0.1003,"v":-0.098},{"k":16,"t":0.102,"v":-0.093},{"k":16,"t":0.105,"v":-0.089},{"k":16,"t":0.115,"v":-0.093},{"k":16,"t":0.125,"v":-0.088},{"k":16,"t":0.135,"v":-0.092},{"k":16,"t":0.145,"v":-0.096},{"k":16,"t":0.155,"v":-0.091},{"k":16,"t":0.165,"v":-0.087},{"k":16,"t":0.175,"v":-0.092},{"k":16,"t":0.185,"v":-0.088},{"k":16,"t":0.195,"v":-0.093},
{"k":16,"t":0.205,"v":-0.089},{"k":16,"t":0.215,"v":-0.085},{"k":16,"t":0.225,"v":-0.09},{"k":16,"t":0.235,"v":-0.094},{"k":16,"t":0.245,"v":-0.089},{"k":16,"t":0.255,"v":-0.093},{"k":16,"t":0.265,"v":-0.088},{"k":16,"t":0.275,"v":-0.092},{"k":16,"t":0.285,"v":-0.087},{"k":16,"t":0.295,"v":-0.091},
{"k":16,"t":0.305,"v":-0.095},{"k":16,"t":0.315,"v":-0.09},{"k":16,"t":0.325,"v":-0.086},{"k":16,"t":0.335,"v":-0.091},{"k":16,"t":0.345,"v":-0.087},{"k":16,"t":0.355,"v":-0.092},{"k":16,"t":0.365,"v":-0.088},{"k":16,"t":0.375,"v":-0.093},{"k":16,"t":0.385,"v":-0.089},{"k":16,"t":0.395,"v":-0.085},
{"k":16,"t":0.405,"v":-0.09},{"k":16,"t":0.415,"v":-0.094},{"k":16,"t":0.425,"v":-0.089},{"k":16,"t":0.435,"v":-0.093},{"k":16,"t":0.445,"v":-0.088},{"k":16,"t":0.455,"v":-0.092},{"k":16,"t":0.465,"v":-0.087},{"k":16,"t":0.475,"v":-0.091},{"k":16,"t":0.485,"v":-0.095},{"k":16,"t":0.495,"v":-0.09},
{"k":16,"t":0.505,"v":-0.086},{"k":16,"t":0.515,"v":-0.091},{"k":16,"t":0.525,"v":-0.087},{"k":16,"t":0.535,"v":-0.092},{"k":16,"t":0.545,"v":-0.088},{"k":16,"t":0.555,"v":-0.093},{"k":16,"t":0.565,"v":-0.089},{"k":16,"t":0.575,"v":-0.085},{"k":16,"t":0.585,"v":-0.09},{"k":16,"t":0.595,"v":-0.094},{"k":16,"t":0.5995,"v":-0.09},
{"k":16,"t":0.6003,"v":-0.002},
{"k":17,"t":0.1,"v":-0.001},{"k":17,"t":0.1003,"v":-0.122},{"k":17,"t":0.102,"v":-0.114},{"k":17,"t":0.105,"v":-0.108},{"k":17,"t":0.115,"v":-0.113},{"k":17,"t":0.125,"v":-0.109},{"k":17,"t":0.135,"v":-0.114},{"k":17,"t":0.145,"v":-0.11},{"k":17,"t":0.155,"v":-0.115},{"k":17,"t":0.165,"v":-0.111},{"k":17,"t":0.175,"v":-0.116},{"k":17,"t":0.185,"v":-0.112},{"k":17,"t":0.195,"v":-0.117},
{"k":17,"t":0.205,"v":-0.113},{"k":17,"t":0.215,"v":-0.109},{"k":17,"t":0.225,"v":-0.114},{"k":17,"t":0.235,"v":-0.11},{"k":17,"t":0.245,"v":-0.115},{"k":17,"t":0.255,"v":-0.111},{"k":17,"t":0.265,"v":-0.116},{"k":17,"t":0.275,"v":-0.112},{"k":17,"t":0.285,"v":-0.117},{"k":17,"t":0.295,"v":-0.124},
{"k":17,"t":0.3,"v":-0.136},{"k":17,"t":0.305,"v":-0.121},{"k":17,"t":0.315,"v":-0.116},{"k":17,"t":0.325,"v":-0.12},{"k":17,"t":0.335,"v":-0.128},{"k":17,"t":0.34,"v":-0.135},{"k":17,"t":0.345,"v":-0.119},{"k":17,"t":0.355,"v":-0.114},{"k":17,"t":0.365,"v":-0.118},{"k":17,"t":0.375,"v":-0.113},{"k":17,"t":0.385,"v":-0.117},{"k":17,"t":0.395,"v":-0.112},
{"k":17,"t":0.405,"v":-0.116},{"k":17,"t":0.415,"v":-0.111},{"k":17,"t":0.425,"v":-0.115},{"k":17,"t":0.435,"v":-0.119},{"k":17,"t":0.445,"v":-0.114},{"k":17,"t":0.455,"v":-0.118},{"k":17,"t":0.465,"v":-0.113},{"k":17,"t":0.475,"v":-0.117},{"k":17,"t":0.485,"v":-0.112},{"k":17,"t":0.495,"v":-0.116},
{"k":17,"t":0.505,"v":-0.12},{"k":17,"t":0.515,"v":-0.115},{"k":17,"t":0.525,"v":-0.111},{"k":17,"t":0.535,"v":-0.116},{"k":17,"t":0.545,"v":-0.112},{"k":17,"t":0.555,"v":-0.117},{"k":17,"t":0.565,"v":-0.113},{"k":17,"t":0.575,"v":-0.118},{"k":17,"t":0.585,"v":-0.114},{"k":17,"t":0.595,"v":-0.119},{"k":17,"t":0.5995,"v":-0.116},
{"k":17,"t":0.6003,"v":-0.003},
{"k":21,"t":0.0027,"v":0.002},{"k":21,"t":0.008,"v":-0.003},{"k":21,"t":0.013,"v":0.001},{"k":21,"t":0.0157,"v":-0.019},{"k":21,"t":0.018,"v":-0.002},{"k":21,"t":0.023,"v":0.003},{"k":21,"t":0.028,"v":-0.002},{"k":21,"t":0.033,"v":0.002},{"k":21,"t":0.038,"v":-0.003},{"k":21,"t":0.041,"v":0.001},{"k":21,"t":0.0415,"v":-0.016},{"k":21,"t":0.046,"v":-0.012},{"k":21,"t":0.05,"v":-0.018},{"k":21,"t":0.0505,"v":-0.002},{"k":21,"t":0.055,"v":0.003},{"k":21,"t":0.06,"v":-0.002},{"k":21,"t":0.065,"v":0.002},{"k":21,"t":0.07,"v":-0.003},{"k":21,"t":0.075,"v":0.001},{"k":21,"t":0.08,"v":-0.002},{"k":21,"t":0.085,"v":0.003},{"k":21,"t":0.09,"v":-0.001},{"k":21,"t":0.095,"v":0.002},{"k":21,"t":0.0998,"v":-0.001},
{"k":22,"t":0.0027,"v":-0.002},{"k":22,"t":0.006,"v":0.003},{"k":22,"t":0.011,"v":-0.003},{"k":22,"t":0.016,"v":0.002},{"k":22,"t":0.021,"v":-0.004},{"k":22,"t":0.026,"v":0.001},{"k":22,"t":0.031,"v":-0.003},{"k":22,"t":0.036,"v":0.003},{"k":22,"t":0.0412,"v":-0.002},{"k":22,"t":0.042,"v":-0.012},{"k":22,"t":0.047,"v":-0.019},{"k":22,"t":0.0505,"v":-0.01},{"k":22,"t":0.051,"v":0.002},{"k":22,"t":0.056,"v":-0.004},{"k":22,"t":0.061,"v":0.003},{"k":22,"t":0.066,"v":-0.002},{"k":22,"t":0.071,"v":0.004},{"k":22,"t":0.076,"v":-0.003},{"k":22,"t":0.081,"v":0.002},{"k":22,"t":0.086,"v":-0.004},{"k":22,"t":0.091,"v":0.003},{"k":22,"t":0.096,"v":-0.002},{"k":22,"t":0.0998,"v":0.001},
{"k":23,"t":0.0027,"v":0},{"k":23,"t":0.005,"v":-0.004},{"k":23,"t":0.01,"v":0.002},{"k":23,"t":0.015,"v":-0.002},{"k":23,"t":0.02,"v":0.003},{"k":23,"t":0.025,"v":-0.004},{"k":23,"t":0.03,"v":0.001},{"k":23,"t":0.035,"v":-0.002},{"k":23,"t":0.04,"v":0.002},{"k":23,"t":0.0418,"v":-0.014},{"k":23,"t":0.045,"v":-0.009},{"k":23,"t":0.049,"v":-0.015},{"k":23,"t":0.0508,"v":0.001},{"k":23,"t":0.054,"v":-0.003},{"k":23,"t":0.059,"v":0.004},{"k":23,"t":0.064,"v":-0.001},{"k":23,"t":0.069,"v":0.002},{"k":23,"t":0.074,"v":-0.004},{"k":23,"t":0.079,"v":0.003},{"k":23,"t":0.084,"v":-0.002},{"k":23,"t":0.089,"v":0.004},{"k":23,"t":0.094,"v":-0.003},{"k":23,"t":0.0998,"v":0},
{"k":31,"t":0.6005,"v":0.004},{"k":31,"t":0.605,"v":-0.006},{"k":31,"t":0.61,"v":0.005},{"k":31,"t":0.615,"v":-0.004},{"k":31,"t":0.62,"v":0.006},{"k":31,"t":0.625,"v":-0.005},{"k":31,"t":0.63,"v":0.004},{"k":31,"t":0.635,"v":-0.007},{"k":31,"t":0.64,"v":0.005},{"k":31,"t":0.645,"v":-0.004},{"k":31,"t":0.65,"v":0.006},{"k":31,"t":0.655,"v":-0.006},{"k":31,"t":0.66,"v":0.003},{"k":31,"t":0.665,"v":-0.005},{"k":31,"t":0.67,"v":0.005},{"k":31,"t":0.675,"v":-0.004},{"k":31,"t":0.68,"v":0.006},{"k":31,"t":0.685,"v":-0.005},{"k":31,"t":0.69,"v":0.004},{"k":31,"t":0.695,"v":-0.006},{"k":31,"t":0.6993,"v":0.003},
{"k":32,"t":0.6005,"v":-0.008},{"k":32,"t":0.603,"v":0.003},{"k":32,"t":0.608,"v":-0.009},{"k":32,"t":0.613,"v":0.002},{"k":32,"t":0.618,"v":-0.008},{"k":32,"t":0.623,"v":0.004},{"k":32,"t":0.628,"v":-0.01},{"k":32,"t":0.631,"v":-0.018},{"k":32,"t":0.633,"v":-0.006},{"k":32,"t":0.638,"v":0.002},{"k":32,"t":0.643,"v":-0.009},{"k":32,"t":0.648,"v":0.003},{"k":32,"t":0.653,"v":-0.008},{"k":32,"t":0.658,"v":0.001},{"k":32,"t":0.66,"v":-0.017},{"k":32,"t":0.663,"v":-0.004},{"k":32,"t":0.667,"v":-0.019},{"k":32,"t":0.669,"v":-0.003},{"k":32,"t":0.674,"v":0.002},{"k":32,"t":0.679,"v":-0.01},{"k":32,"t":0.684,"v":0.003},{"k":32,"t":0.689,"v":-0.008},{"k":32,"t":0.694,"v":0.002},{"k":32,"t":0.6993,"v":-0.007},
{"k":33,"t":0.6005,"v":0.001},{"k":33,"t":0.602,"v":-0.004},{"k":33,"t":0.607,"v":0.007},{"k":33,"t":0.612,"v":-0.003},{"k":33,"t":0.617,"v":0.008},{"k":33,"t":0.622,"v":-0.002},{"k":33,"t":0.627,"v":0.006},{"k":33,"t":0.632,"v":-0.004},{"k":33,"t":0.637,"v":0.007},{"k":33,"t":0.642,"v":-0.003},{"k":33,"t":0.647,"v":0.008},{"k":33,"t":0.652,"v":-0.002},{"k":33,"t":0.657,"v":0.006},{"k":33,"t":0.662,"v":-0.004},{"k":33,"t":0.667,"v":0.007},{"k":33,"t":0.672,"v":-0.003},{"k":33,"t":0.677,"v":0.008},{"k":33,"t":0.682,"v":-0.002},{"k":33,"t":0.687,"v":0.006},{"k":33,"t":0.692,"v":-0.004},{"k":33,"t":0.6993,"v":0.005},
{"k":34,"t":0.6005,"v":-0.003},{"k":34,"t":0.604,"v":-0.011},{"k":34,"t":0.609,"v":-0.001},{"k":34,"t":0.614,"v":-0.012},{"k":34,"t":0.619,"v":-0.002},{"k":34,"t":0.624,"v":-0.01},{"k":34,"t":0.629,"v":0},{"k":34,"t":0.634,"v":-0.011},{"k":34,"t":0.639,"v":-0.003},{"k":34,"t":0.644,"v":-0.012},{"k":34,"t":0.649,"v":-0.001},{"k":34,"t":0.654,"v":-0.01},{"k":34,"t":0.659,"v":-0.002},{"k":34,"t":0.664,"v":-0.011},{"k":34,"t":0.669,"v":0},{"k":34,"t":0.674,"v":-0.009},{"k":34,"t":0.679,"v":-0.002},{"k":34,"t":0.684,"v":-0.012},{"k":34,"t":0.689,"v":-0.001},{"k":34,"t":0.694,"v":-0.01},{"k":34,"t":0.6993,"v":-0.004}
]},
"layer":[
{"mark":{"type":"line","color":"black","strokeWidth":1.3,"clip":true},
 "encoding":{
  "x":{"field":"t","type":"quantitative","scale":{"domain":[0.0027,0.6993],"nice":false,"zero":false},
   "axis":{"orient":"bottom","values":[0.1,0.6],"format":".1f","grid":false,"tickSize":-7,"tickColor":"#404040","domainColor":"#404040","labelFont":"Open Sans","labelFontSize":25,"labelColor":"#262626","labelPadding":18,"title":"t [s]","titleFont":"Open Sans","titleFontSize":28,"titleFontWeight":"normal","titleColor":"#262626","titlePadding":3}},
  "y":{"field":"v","type":"quantitative","scale":{"domain":[-0.254,0.4353],"nice":false,"zero":false},
   "axis":{"orient":"left","values":[-0.2,-0.1,0,0.1,0.2,0.3,0.4],"labelExpr":"datum.value == 0 ? '0' : (datum.value < 0 ? '-' : '') + format(abs(datum.value), '.1f')","grid":false,"tickSize":-7,"tickColor":"#404040","domainColor":"#404040","labelFont":"Open Sans","labelFontSize":25,"labelColor":"#262626","labelPadding":24,"title":"I [nA]","titleFont":"Open Sans","titleFontSize":28,"titleFontWeight":"normal","titleColor":"#262626","titleBaseline":"alphabetic","titlePadding":4}},
  "detail":{"field":"k","type":"nominal"}}},
{"mark":{"type":"line","strokeOpacity":0},
 "transform":[{"filter":"datum.k == 1"}],
 "encoding":{
  "x":{"field":"t","type":"quantitative","axis":{"orient":"top","domain":false,"ticks":false,"labels":false,"grid":false,"title":"25 °C\u00a0 Activation","titleAnchor":"end","titleAlign":"right","titleBaseline":"alphabetic","titleFont":"Open Sans","titleFontSize":21,"titleFontWeight":"normal","titleColor":"black","titlePadding":-5}},
  "y":{"field":"v","type":"quantitative","axis":{"orient":"right","domain":false,"ticks":false,"labels":false,"grid":false,"title":"BBP Channelpedia ID 29174 rep 1","titleAngle":270,"titleBaseline":"alphabetic","titleFont":"Open Sans","titleFontSize":15,"titleFontWeight":"normal","titleColor":"black","titlePadding":17}}}}
],
"resolve":{"axis":{"x":"independent","y":"independent"}}
}
